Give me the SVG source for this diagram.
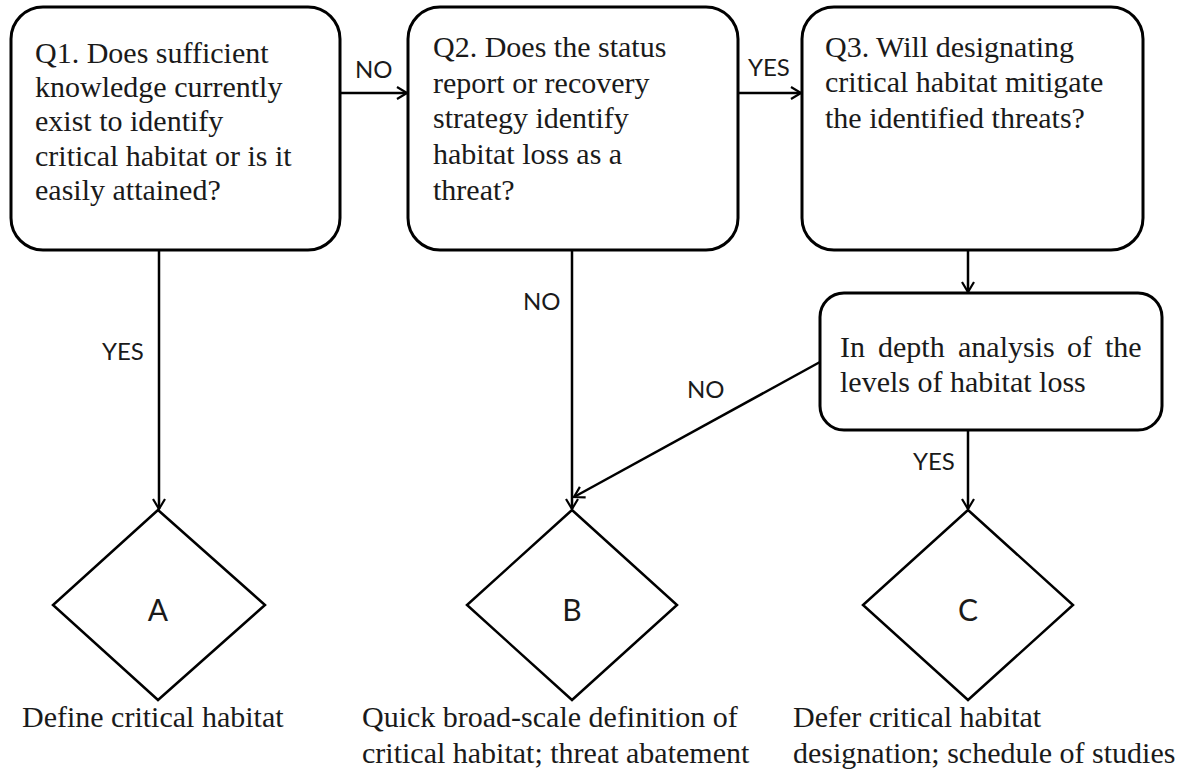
<svg xmlns="http://www.w3.org/2000/svg" width="1191" height="769" viewBox="0 0 1191 769">
<defs>
<style>
.box{fill:#fff;stroke:#000;stroke-width:3}
.dia{fill:#fff;stroke:#000;stroke-width:2.5}
.q{font-family:"Liberation Serif","Times New Roman",serif;font-size:30px;fill:#1a1a1a}
.lbl{font-family:Lato,"Open Sans",sans-serif;font-size:24px;fill:#1a1a1a}
.big{font-family:Lato,"Open Sans",sans-serif;font-size:30px;fill:#1a1a1a;text-anchor:middle}
.edge{fill:none;stroke:#000;stroke-width:2.5}
</style>
<marker id="arr" markerUnits="userSpaceOnUse" markerWidth="16" markerHeight="16" refX="11" refY="7" orient="auto">
<path d="M1,1 L11,7 L1,13" fill="none" stroke="#000" stroke-width="2.2"/>
</marker>
</defs>
<rect width="1191" height="769" fill="#fff"/>

<g id="edges">
<line class="edge" x1="340" y1="93" x2="407" y2="93" marker-end="url(#arr)"/>
<line class="edge" x1="738" y1="93" x2="801" y2="93" marker-end="url(#arr)"/>
<line class="edge" x1="159" y1="250" x2="159" y2="509" marker-end="url(#arr)"/>
<line class="edge" x1="572" y1="250" x2="572" y2="509" marker-end="url(#arr)"/>
<line class="edge" x1="968" y1="250" x2="968" y2="292" marker-end="url(#arr)"/>
<line class="edge" x1="968" y1="430" x2="968" y2="509" marker-end="url(#arr)"/>
<line class="edge" x1="820" y1="362" x2="574" y2="497" marker-end="url(#arr)"/>
<text class="lbl" x="355" y="78">NO</text>
<text class="lbl" x="748" y="76">YES</text>
<text class="lbl" x="102" y="360">YES</text>
<text class="lbl" x="523" y="310">NO</text>
<text class="lbl" x="687" y="398">NO</text>
<text class="lbl" x="913" y="470">YES</text>
</g>

<g id="q1">
<rect class="box" x="11" y="7" width="329" height="243" rx="32"/>
<text class="q" x="35" y="63">Q1. Does sufficient</text>
<text class="q" x="35" y="97">knowledge currently</text>
<text class="q" x="35" y="131">exist to identify</text>
<text class="q" x="35" y="166">critical habitat or is it</text>
<text class="q" x="35" y="200">easily attained?</text>
</g>

<g id="q2">
<rect class="box" x="408" y="7" width="330" height="243" rx="32"/>
<text class="q" x="433" y="57">Q2. Does the status</text>
<text class="q" x="433" y="93">report or recovery</text>
<text class="q" x="433" y="128">strategy identify</text>
<text class="q" x="433" y="164">habitat loss as a</text>
<text class="q" x="433" y="200">threat?</text>
</g>

<g id="q3">
<rect class="box" x="802" y="7" width="341" height="243" rx="32"/>
<text class="q" x="825" y="57">Q3. Will designating</text>
<text class="q" x="825" y="92">critical habitat mitigate</text>
<text class="q" x="825" y="128">the identified threats?</text>
</g>

<g id="analysis">
<rect class="box" x="820" y="293" width="342" height="137" rx="24"/>
<text class="q" y="357"><tspan x="840">In</tspan><tspan x="878">depth</tspan><tspan x="958">analysis</tspan><tspan x="1067">of</tspan><tspan x="1105">the</tspan></text>
<text class="q" x="840" y="392">levels of habitat loss</text>
</g>

<g id="a">
<polygon class="dia" points="158,510 265,605 158,700 53,605"/>
<text class="big" x="158" y="621">A</text>
<text class="q" x="22" y="727">Define critical habitat</text>
</g>

<g id="b">
<polygon class="dia" points="572,510 677,605 572,700 467,605"/>
<text class="big" x="572" y="621">B</text>
<text class="q" x="362" y="727">Quick broad-scale definition of</text>
<text class="q" x="362" y="763">critical habitat; threat abatement</text>
</g>

<g id="c">
<polygon class="dia" points="968,510 1073,605 968,700 863,605"/>
<text class="big" x="968" y="621">C</text>
<text class="q" x="793" y="727">Defer critical habitat</text>
<text class="q" x="793" y="763">designation; schedule of studies</text>
</g>
</svg>
